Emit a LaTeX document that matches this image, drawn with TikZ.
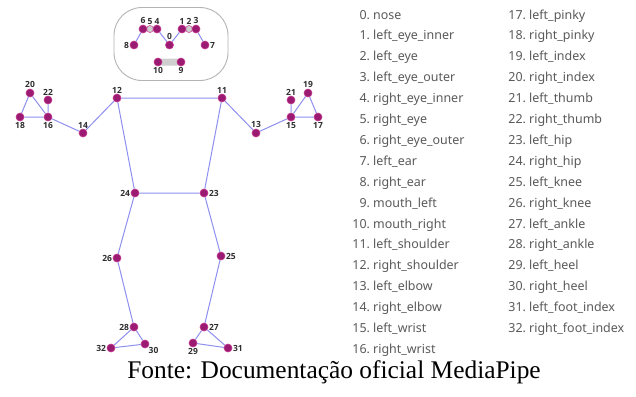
\documentclass[tikz,border=0pt]{standalone}
\usepackage{fontspec}
\setmainfont{Liberation Serif}
\newfontfamily\listfont{Noto Sans}
\newfontfamily\kpfont{Open Sans}
\usetikzlibrary{backgrounds}
\definecolor{kpfill}{HTML}{9C1B72}
\definecolor{kpedge}{HTML}{C2378C}
\definecolor{limb}{HTML}{8F8FF0}
\definecolor{listgray}{HTML}{5A5A5A}
\definecolor{numgray}{HTML}{2E2E2E}
\definecolor{facegray}{HTML}{B4B4B4}
\definecolor{softgray}{HTML}{CFCFCF}

\begin{document}
\begin{tikzpicture}[x=1bp,y=-1bp,
  kp/.style={circle,minimum size=8bp,inner sep=0pt,fill=kpfill,draw=kpedge,
             line width=0.6bp,label distance=0.8bp},
  softkp/.style={circle,minimum size=7bp,inner sep=0pt,fill=softgray,draw=kpedge,
             line width=0.5bp,label distance=0.8bp},
  every label/.style={font=\kpfont\bfseries\fontsize{8.5}{8.5}\selectfont,
             text=numgray,inner sep=0.5bp},
  limbline/.style={draw=limb,line width=1bp},
  listitem/.style={font=\listfont\fontsize{12.5}{14}\selectfont,text=listgray,
             inner sep=0pt,anchor=base west}]

\useasboundingbox (0,0) rectangle (636,396);

% head outline
\node[draw=facegray,line width=0.9bp,rounded corners=28bp,
      minimum width=114bp,minimum height=73bp] (face) at (171,44) {};

% mouth
\node[fill=softgray,rounded corners=3.5bp,minimum width=22bp,minimum height=7bp,
      inner sep=0pt] (mouth) at (169.5,62) {};

% face landmarks
\node[softkp,label={above:5}] (p5) at (150,29) {};
\node[softkp,label={above:2}] (p2) at (189,29) {};
\node[kp,label={above:6}] (p6) at (143,29) {};
\node[kp,label={above:4}] (p4) at (157,29) {};
\node[kp,label={above:1}] (p1) at (182,29) {};
\node[kp,label={above:3}] (p3) at (196,29) {};
\node[kp,label={above:0}] (p0) at (169.5,45) {};
\node[kp,label={left:8}] (p8) at (134,45) {};
\node[kp,label={right:7}] (p7) at (205,45) {};
\node[kp,label={below:10}] (p10) at (158,62) {};
\node[kp,label={below:9}] (p9) at (181,62) {};

% upper body
\node[kp,label={above:11}] (p11) at (222,98) {};
\node[kp,label={above:12}] (p12) at (117,98) {};
\node[kp,label={above:13}] (p13) at (256,133) {};
\node[kp,label={above:14}] (p14) at (83,133) {};
\node[kp,label={below:15}] (p15) at (291,117) {};
\node[kp,label={below:16}] (p16) at (48,117) {};
\node[kp,label={below:17}] (p17) at (318,117) {};
\node[kp,label={below:18}] (p18) at (20,117) {};
\node[kp,label={above:19}] (p19) at (308,93) {};
\node[kp,label={above:20}] (p20) at (30,93) {};
\node[kp,label={above:21}] (p21) at (291,100) {};
\node[kp,label={above:22}] (p22) at (48,100) {};

% lower body
\node[kp,label={right:23}] (p23) at (204,193) {};
\node[kp,label={left:24}] (p24) at (135,193) {};
\node[kp,label={right:25}] (p25) at (221,256) {};
\node[kp,label={left:26}] (p26) at (117,258) {};
\node[kp,label={right:27}] (p27) at (204,327) {};
\node[kp,label={left:28}] (p28) at (134,327) {};
\node[kp,label={below:29}] (p29) at (193,343) {};
\node[kp,label={below right:30}] (p30) at (145,344) {};
\node[kp,label={right:31}] (p31) at (228,348) {};
\node[kp,label={left:32}] (p32) at (111,348) {};

% white page and skeleton connections, kept under the landmarks
\begin{pgfonlayer}{background}
  \fill[white] (0,0) rectangle (636,396);
  \draw[limbline] (p8) -- (p6) (p4) -- (p0) -- (p1) (p3) -- (p7);
  \draw[limbline] (p11) -- (p12) -- (p24) -- (p23) -- (p11);
  \draw[limbline] (p12) -- (p14) -- (p16) -- (p18) -- (p20) -- (p16) -- (p22);
  \draw[limbline] (p11) -- (p13) -- (p15) -- (p17) -- (p19) -- (p15) -- (p21);
  \draw[limbline] (p24) -- (p26) -- (p28) -- (p30) -- (p32) -- (p28);
  \draw[limbline] (p23) -- (p25) -- (p27) -- (p29) -- (p31) -- (p27);
\end{pgfonlayer}

% landmark index
\foreach \i/\t in {0/nose,1/left\_eye\_inner,2/left\_eye,3/left\_eye\_outer,
  4/right\_eye\_inner,5/right\_eye,6/right\_eye\_outer,7/left\_ear,8/right\_ear,
  9/mouth\_left,10/mouth\_right,11/left\_shoulder,12/right\_shoulder,
  13/left\_elbow,14/right\_elbow,15/left\_wrist,16/right\_wrist}
  \node[listitem] (item\i) at (373,{19+20.9*\i}) {\llap{\i.\ }\t};
\foreach \i/\t in {17/left\_pinky,18/right\_pinky,19/left\_index,20/right\_index,
  21/left\_thumb,22/right\_thumb,23/left\_hip,24/right\_hip,25/left\_knee,
  26/right\_knee,27/left\_ankle,28/right\_ankle,29/left\_heel,30/right\_heel,
  31/left\_foot\_index,32/right\_foot\_index}
  \node[listitem] (item\i) at (529,{19+20.9*(\i-17)}) {\llap{\i.\ }\t};

% source note
\node[font=\fontsize{25.5}{25.5}\selectfont,anchor=base,inner sep=0pt] (caption)
  at (334,378) {Fonte: Documentação oficial MediaPipe};
\end{tikzpicture}
\end{document}
